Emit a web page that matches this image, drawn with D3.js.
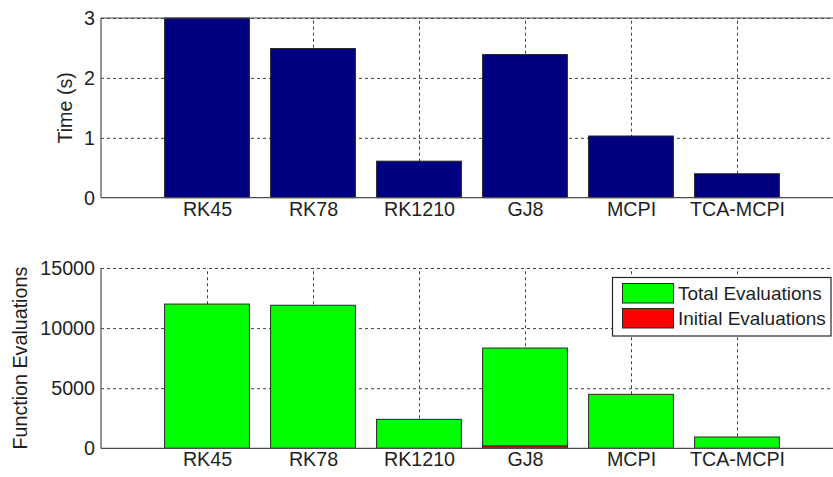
<!DOCTYPE html>
<html>
<head>
<meta charset="utf-8">
<script src="https://cdn.jsdelivr.net/npm/d3@7"></script>
<style>
  html, body { margin: 0; padding: 0; background: #fff; }
  svg { display: block; }
  text { font-family: "Liberation Sans", Arial, sans-serif; fill: #1f1f1f; }
</style>
</head>
<body>
<svg id="chart" width="833" height="477"></svg>
<script>
// Solver names
const methods = ["RK45", "RK78", "RK1210", "GJ8", "MCPI", "TCA-MCPI"];
// Run time of each solver, seconds
const timeSeconds = [3.0, 2.49, 0.61, 2.39, 1.03, 0.40];
// Function evaluations
const totalEvals = [12000, 11900, 2410, 8340, 4490, 940];
const initialEvals = [0, 0, 0, 200, 0, 0];
// Axis ticks
const timeTicks = [0, 1, 2, 3];
const evalTicks = [0, 5000, 10000, 15000];
const legendLabels = ["Total Evaluations", "Initial Evaluations"];

const svg = d3.select("#chart");
const axisColor = "#4d4d4d";
const gridColor = "#404040";
const edgeColor = "#262626";
const fontSize = 19.7;
const legendFontSize = 19;
const fontFamily = "Liberation Sans, Arial, sans-serif";

// shared horizontal scale: bar positions 1..6 on a 0..7 axis
const x = d3.scaleLinear().domain([0, 7]).range([101, 843]);
const barW = x(0.8) - x(0);

function panel(top, bottom, yDomain, ticks) {
  const y = d3.scaleLinear().domain(yDomain).range([bottom, top]);
  const g = svg.append("g");

  // horizontal grid
  const hg = g.append("g")
    .attr("transform", `translate(${x(0)},0)`)
    .call(d3.axisLeft(y).tickValues(ticks).tickSize(-(x(7) - x(0))).tickFormat(""));
  hg.select(".domain").remove();
  hg.selectAll(".tick line")
    .attr("stroke", gridColor).attr("stroke-width", 1)
    .attr("stroke-dasharray", "3,3")
    .filter(d => d === yDomain[0]).remove();

  // vertical grid at each category
  const vg = g.append("g")
    .attr("transform", `translate(0,${bottom})`)
    .call(d3.axisBottom(x).tickValues(d3.range(1, 7)).tickSize(-(bottom - top)).tickFormat(""));
  vg.select(".domain").remove();
  vg.selectAll(".tick line")
    .attr("stroke", gridColor).attr("stroke-width", 1)
    .attr("stroke-dasharray", "3,3");

  return { g, y };
}

function frame(g, y, top, bottom, ticks, yLabel, labelX, solidTop) {
  // axes lines
  g.append("line").attr("x1", x(0)).attr("x2", 833).attr("y1", bottom).attr("y2", bottom)
    .attr("stroke", axisColor).attr("stroke-width", 1.2);
  g.append("line").attr("x1", x(0)).attr("x2", x(0)).attr("y1", top).attr("y2", bottom)
    .attr("stroke", axisColor).attr("stroke-width", 1.2);
  if (solidTop) {
    g.append("line").attr("x1", x(0)).attr("x2", 833).attr("y1", top).attr("y2", top)
      .attr("stroke", axisColor).attr("stroke-width", 1.2);
  }

  // y tick labels
  const ya = g.append("g")
    .attr("transform", `translate(${x(0) - 6},0)`)
    .call(d3.axisLeft(y).tickValues(ticks).tickSize(0).tickPadding(0).tickFormat(d3.format("d")));
  ya.select(".domain").remove();
  ya.selectAll("text").attr("font-size", fontSize)
    .attr("font-family", fontFamily).attr("fill", "#1f1f1f");

  // category labels
  const xa = g.append("g")
    .attr("transform", `translate(0,${bottom + 4})`)
    .call(d3.axisBottom(x).tickValues(d3.range(1, 7)).tickSize(0).tickPadding(0)
      .tickFormat(d => methods[d - 1]));
  xa.select(".domain").remove();
  xa.selectAll("text").attr("font-size", fontSize)
    .attr("font-family", fontFamily).attr("fill", "#1f1f1f");

  // y axis title
  g.append("text")
    .attr("transform", `translate(${labelX},${(top + bottom) / 2}) rotate(-90)`)
    .attr("text-anchor", "middle")
    .attr("font-size", fontSize)
    .text(yLabel);
}

// ---- top panel: run time ----
const p1 = panel(18, 197.7, [0, 3], timeTicks);
p1.g.append("g").selectAll("rect")
  .data(timeSeconds)
  .join("rect")
  .attr("x", (d, i) => x(i + 1) - barW / 2)
  .attr("width", barW)
  .attr("y", d => p1.y(d))
  .attr("height", d => p1.y(0) - p1.y(d))
  .attr("fill", "#000080")
  .attr("stroke", edgeColor).attr("stroke-width", 1);
frame(p1.g, p1.y, 18, 197.7, timeTicks, "Time (s)", 72, true);

// ---- bottom panel: function evaluations ----
const p2 = panel(268, 448.3, [0, 15000], evalTicks);
p2.g.append("g").selectAll("rect")
  .data(totalEvals)
  .join("rect")
  .attr("x", (d, i) => x(i + 1) - barW / 2)
  .attr("width", barW)
  .attr("y", d => p2.y(d))
  .attr("height", d => p2.y(0) - p2.y(d))
  .attr("fill", "#00ff00")
  .attr("stroke", edgeColor).attr("stroke-width", 1);
p2.g.append("g").selectAll("rect")
  .data(initialEvals)
  .join("rect")
  .attr("x", (d, i) => x(i + 1) - barW / 2)
  .attr("width", barW)
  .attr("y", d => p2.y(d))
  .attr("height", d => p2.y(0) - p2.y(d))
  .attr("fill", "#ff0000")
  .attr("stroke", edgeColor).attr("stroke-width", 1)
  .attr("display", d => d > 0 ? null : "none");
frame(p2.g, p2.y, 268, 448.3, evalTicks, "Function Evaluations", 27, false);

// ---- legend ----
const lg = svg.append("g");
lg.append("rect")
  .attr("x", 612.5).attr("y", 277.5).attr("width", 218.5).attr("height", 58.5)
  .attr("fill", "#fff").attr("stroke", edgeColor).attr("stroke-width", 1.2);
const legendColors = ["#00ff00", "#ff0000"];
legendLabels.forEach((label, i) => {
  const ly = 283.5 + i * 25;
  lg.append("rect")
    .attr("x", 622.5).attr("y", ly).attr("width", 51).attr("height", 19.5)
    .attr("fill", legendColors[i]).attr("stroke", edgeColor).attr("stroke-width", 1);
  lg.append("text")
    .attr("x", 678).attr("y", ly + 16.8)
    .attr("font-size", legendFontSize)
    .text(label);
});
</script>
</body>
</html>
